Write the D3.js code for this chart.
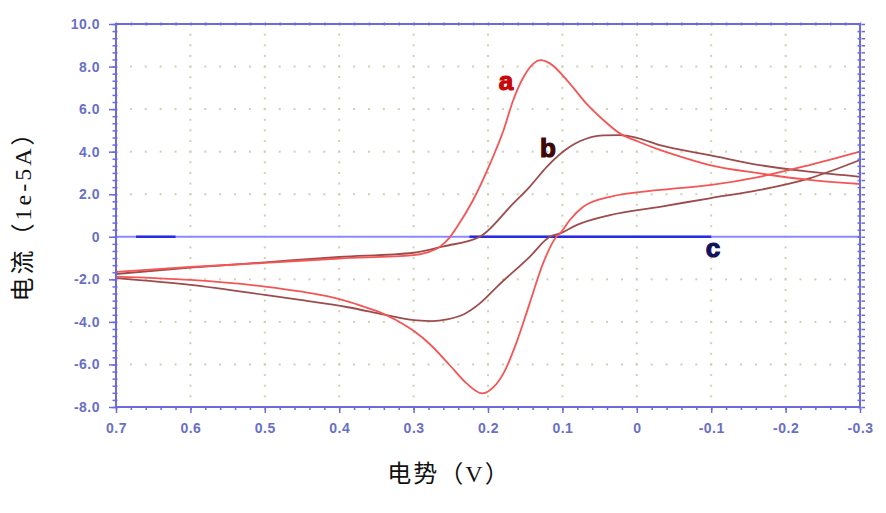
<!DOCTYPE html>
<html>
<head>
<meta charset="utf-8">
<script src="https://cdn.jsdelivr.net/npm/d3@7"></script>
<style>
body { margin: 0; background: #fff; }
</style>
</head>
<body>
<svg id="chart" width="886" height="513"></svg>
<script>
// tick values and labels
var xTicks = [0.7, 0.6, 0.5, 0.4, 0.3, 0.2, 0.1, 0, -0.1, -0.2, -0.3];
var xTickLabels = ["0.7", "0.6", "0.5", "0.4", "0.3", "0.2", "0.1", "0", "-0.1", "-0.2", "-0.3"];
var yTicks = [10, 8, 6, 4, 2, 0, -2, -4, -6, -8];
var yTickLabels = ["10.0", "8.0", "6.0", "4.0", "2.0", "0", "-2.0", "-4.0", "-6.0", "-8.0"];

// curve a (red), scan 0.7 -> -0.3, then back
var aFwdV = [0.70, 0.60, 0.50, 0.40, 0.30, 0.28, 0.264, 0.252, 0.240, 0.220, 0.197, 0.179, 0.166, 0.152, 0.129, 0.117, 0.090, 0.068, 0.045, 0.023, 0.0, -0.031, -0.045, -0.098, -0.165, -0.232, -0.300];
var aFwdI = [-1.65, -1.42, -1.23, -1.02, -0.86, -0.72, -0.45, -0.05, 0.55, 1.73, 3.45, 5.02, 6.43, 7.52, 8.3, 8.15, 7.2, 6.27, 5.49, 4.86, 4.5, 4.08, 3.92, 3.37, 2.98, 2.67, 2.48];
var aRevV = [-0.300, -0.232, -0.165, -0.098, -0.031, 0.036, 0.072, 0.090, 0.103, 0.108, 0.126, 0.144, 0.162, 0.179, 0.197, 0.208, 0.229, 0.251, 0.278, 0.300, 0.323, 0.345, 0.376, 0.39, 0.412, 0.45, 0.50, 0.60, 0.70];
var aRevI = [4.0, 3.37, 2.82, 2.43, 2.2, 1.88, 1.41, 0.79, 0.16, 0.0, -1.25, -3.13, -5.0, -6.41, -7.2, -7.36, -6.88, -6.05, -5.05, -4.42, -3.92, -3.55, -3.18, -3.02, -2.82, -2.58, -2.34, -2.03, -1.87];

// curve b (brown)
var bFwdV = [0.70, 0.60, 0.50, 0.40, 0.30, 0.26, 0.211, 0.166, 0.144, 0.121, 0.090, 0.076, 0.045, 0.023, 0.0, -0.031, -0.098, -0.165, -0.232, -0.300];
var bFwdI = [-1.75, -1.45, -1.2, -0.95, -0.75, -0.45, 0.0, 1.57, 2.35, 3.29, 4.23, 4.5, 4.77, 4.78, 4.65, 4.31, 3.84, 3.37, 3.06, 2.82];
var bRevV = [-0.300, -0.232, -0.165, -0.098, -0.031, 0.036, 0.081, 0.103, 0.117, 0.144, 0.188, 0.211, 0.233, 0.255, 0.275, 0.295, 0.32, 0.345, 0.39, 0.45, 0.50, 0.60, 0.70];
var bRevI = [3.61, 2.75, 2.2, 1.81, 1.41, 1.02, 0.55, 0.16, 0.0, -0.94, -2.35, -3.13, -3.65, -3.88, -3.96, -3.93, -3.8, -3.62, -3.3, -2.98, -2.73, -2.26, -1.94];

// curve c (blue), flat at zero
var cV = [0.673, 0.62, NaN, 0.225, -0.1];
var cI = [0, 0, NaN, 0, 0];

var svg = d3.select("#chart");

var x = d3.scaleLinear().domain([0.7, -0.3]).range([116, 860]);
var y = d3.scaleLinear().domain([-8, 10]).range([407, 24]);

var axisColor = "#6b6bdb";
var labelColor = "#6a6fc6";

// dotted grid
var gridDots = [];
yTicks.forEach(function(t) {
	if (t == 10 || t == -8 || t == 0) return;
	d3.range(0.68, -0.3, -0.02).forEach(function(v) { gridDots.push([v, t]); });
});
xTicks.forEach(function(t) {
	if (t == 0.7 || t == -0.3) return;
	d3.range(-7.5, 10, 0.5).forEach(function(i) { gridDots.push([t, i]); });
});
svg.append("g").selectAll("rect")
	.data(gridDots)
	.enter()
	.append("rect")
	.attr("x", function(d) { return x(d[0]) - 1; })
	.attr("y", function(d) { return y(d[1]) - 1; })
	.attr("width", 2)
	.attr("height", 2)
	.attr("fill", "#cfcfb4");

// zero line and series c
svg.append("line")
	.attr("x1", x(0.7)).attr("x2", x(-0.3))
	.attr("y1", y(0)).attr("y2", y(0))
	.attr("stroke", "#8a8aff")
	.attr("stroke-width", 2);

var cLine = d3.line()
	.defined(function(d, i) { return !isNaN(cV[i]); })
	.x(function(d, i) { return x(cV[i]); })
	.y(function(d, i) { return y(cI[i]); });
svg.append("path")
	.attr("d", cLine(cV))
	.attr("fill", "none")
	.attr("stroke", "#2a2ae0")
	.attr("stroke-width", 2.6);

// CV curves, each branch drawn left to right on screen
var drawCurve = function(vs, is, colour) {
	var pts = vs.map(function(v, i) { return [x(v), y(is[i])]; });
	pts.sort(function(p, q) { return p[0] - q[0]; });
	var line = d3.line().curve(d3.curveMonotoneX);
	svg.append("path")
		.attr("d", line(pts))
		.attr("fill", "none")
		.attr("stroke", colour)
		.attr("stroke-width", 1.8)
		.attr("stroke-linejoin", "round");
};
drawCurve(bFwdV, bFwdI, "#9c4c4c");
drawCurve(bRevV, bRevI, "#9c4c4c");
drawCurve(aFwdV, aFwdI, "#f45555");
drawCurve(aRevV, aRevI, "#f45555");

// frame
svg.append("rect")
	.attr("x", x(0.7)).attr("y", y(10))
	.attr("width", x(-0.3) - x(0.7))
	.attr("height", y(-8) - y(10))
	.attr("fill", "none")
	.attr("stroke", axisColor)
	.attr("stroke-width", 2);

var xMinor = d3.range(0.7, -0.301, -0.02);
var yMinor = d3.range(-8, 10.01, 1 / 3);

var styleAxis = function(g) {
	g.select(".domain").remove();
	g.selectAll("line").attr("stroke", axisColor).attr("stroke-width", 1.5);
	g.selectAll("text")
		.attr("fill", labelColor)
		.style("font-family", "'Liberation Sans', Arial, sans-serif")
		.style("font-size", "14px")
		.style("font-weight", "bold")
		.style("letter-spacing", "0.5px");
};

// bottom
svg.append("g").attr("transform", "translate(0," + y(-8) + ")")
	.call(d3.axisBottom(x).tickValues(xMinor).tickSize(3).tickFormat(""))
	.call(styleAxis);
svg.append("g").attr("transform", "translate(0," + y(-8) + ")")
	.call(d3.axisBottom(x).tickValues(xTicks).tickSize(6).tickPadding(10)
		.tickFormat(function(d, i) { return xTickLabels[i]; }))
	.call(styleAxis);
// top
svg.append("g").attr("transform", "translate(0," + (y(10) + 1.5) + ")")
	.call(d3.axisTop(x).tickValues(xMinor).tickSize(3).tickFormat(""))
	.call(styleAxis);
// left
svg.append("g").attr("transform", "translate(" + (x(0.7) + 1.5) + ",0)")
	.call(d3.axisLeft(y).tickValues(yMinor).tickSize(5).tickFormat(""))
	.call(styleAxis);
svg.append("g").attr("transform", "translate(" + x(0.7) + ",0)")
	.call(d3.axisLeft(y).tickValues(yTicks).tickSize(7).tickPadding(9)
		.tickFormat(function(d, i) { return yTickLabels[i]; }))
	.call(styleAxis);
// right
svg.append("g").attr("transform", "translate(" + (x(-0.3) + 1.5) + ",0)")
	.call(d3.axisLeft(y).tickValues(yMinor).tickSize(4).tickFormat(""))
	.call(styleAxis);
svg.append("g").attr("transform", "translate(" + (x(-0.3) + 2) + ",0)")
	.call(d3.axisRight(y).tickValues(yMinor).tickSize(3).tickFormat(""))
	.call(styleAxis);

// curve labels
var curveLabel = function(txt, px, py, colour) {
	svg.append("text")
		.attr("x", px).attr("y", py)
		.attr("text-anchor", "middle")
		.attr("fill", colour)
		.attr("stroke", colour)
		.attr("stroke-width", 1.2)
		.style("font-family", "'Liberation Sans', Arial, sans-serif")
		.style("font-size", "26px")
		.style("font-weight", "bold")
		.text(txt);
};
curveLabel("a", 506, 90, "#c80808");
curveLabel("b", 548, 157, "#3c0808");
curveLabel("c", 713, 257, "#12125a");

// axis titles
svg.append("text")
	.attr("x", 449).attr("y", 482)
	.attr("text-anchor", "middle")
	.attr("fill", "#111")
	.style("font-family", "'Liberation Serif', 'Noto Sans CJK SC', serif")
	.style("font-size", "24px")
	.style("letter-spacing", "2px")
	.text("电势（V）");

svg.append("text")
	.attr("transform", "translate(31,210) rotate(-90)")
	.attr("text-anchor", "middle")
	.attr("fill", "#111")
	.style("font-family", "'Liberation Serif', 'Noto Sans CJK SC', serif")
	.style("font-size", "24px")
	.style("letter-spacing", "3px")
	.text("电流（1e-5A）");
</script>
</body>
</html>
